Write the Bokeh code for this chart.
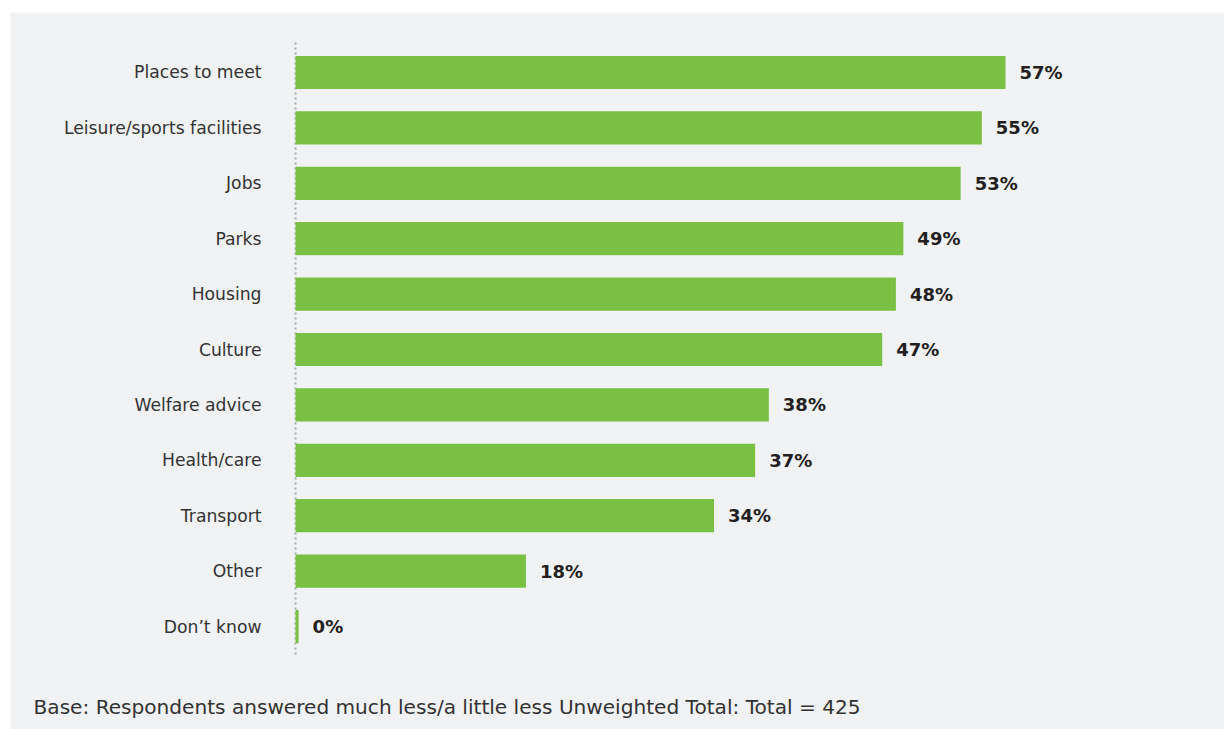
from bokeh.plotting import figure
from bokeh.models import Range1d, ColumnDataSource
from bokeh.core.properties import value
from bokeh.embed import file_html
from bokeh.resources import INLINE

categories = ["Places to meet", "Leisure/sports facilities", "Jobs", "Parks", "Housing",
              "Culture", "Welfare advice", "Health/care", "Transport", "Other", "Don\u2019t know"]
values = [57.0, 55.1, 53.4, 48.8, 48.2, 47.1, 38.0, 36.9, 33.6, 18.5, 0.25]
labels = ["57%", "55%", "53%", "49%", "48%", "47%", "38%", "37%", "34%", "18%", "0%"]
footer = "Base: Respondents answered much less/a little less Unweighted Total: Total = 425"

GREEN = "#7ac143"
PANEL = "#f1f2f4"
FONT = "DejaVu Sans"

ypos = list(range(len(categories)))
src = ColumnDataSource(dict(y=ypos, v=values, lab=labels, cat=categories,
                            zero=[0] * len(values)))

p = figure(width=1224, height=729, output_backend="svg", toolbar_location=None,
           x_range=Range1d(-22.88, 74.58), y_range=Range1d(11.859, -1.083),
           min_border_left=10, min_border_top=12, min_border_right=0, min_border_bottom=0)
p.border_fill_color = "white"
p.background_fill_color = PANEL
p.outline_line_color = None
p.xaxis.visible = False
p.yaxis.visible = False
p.xgrid.visible = False
p.ygrid.visible = False

# dotted baseline
p.segment(x0=[0], y0=[-0.54], x1=[0], y1=[10.52], line_color="#a8a9ad",
          line_width=2, line_dash="2 3")

p.hbar(y="y", left="zero", right="v", height=0.6, source=src,
       fill_color=GREEN, line_color=None)

p.text(x="v", y="y", text="lab", source=src, x_offset=14,
       text_font=value(FONT), text_font_style="bold", text_font_size="18px",
       text_color="#231f20", text_baseline="middle", text_align="left")

p.text(x=-2.73, y="y", text="cat", source=src,
       text_font=value(FONT), text_font_size="17.2px",
       text_color="#333333", text_baseline="middle", text_align="right")

p.text(x=[-21.03], y=[11.46], text=[footer],
       text_font=value(FONT), text_font_size="20.1px",
       text_color="#333333", text_baseline="middle", text_align="left")

open("out.html", "w").write(file_html(p, INLINE))
